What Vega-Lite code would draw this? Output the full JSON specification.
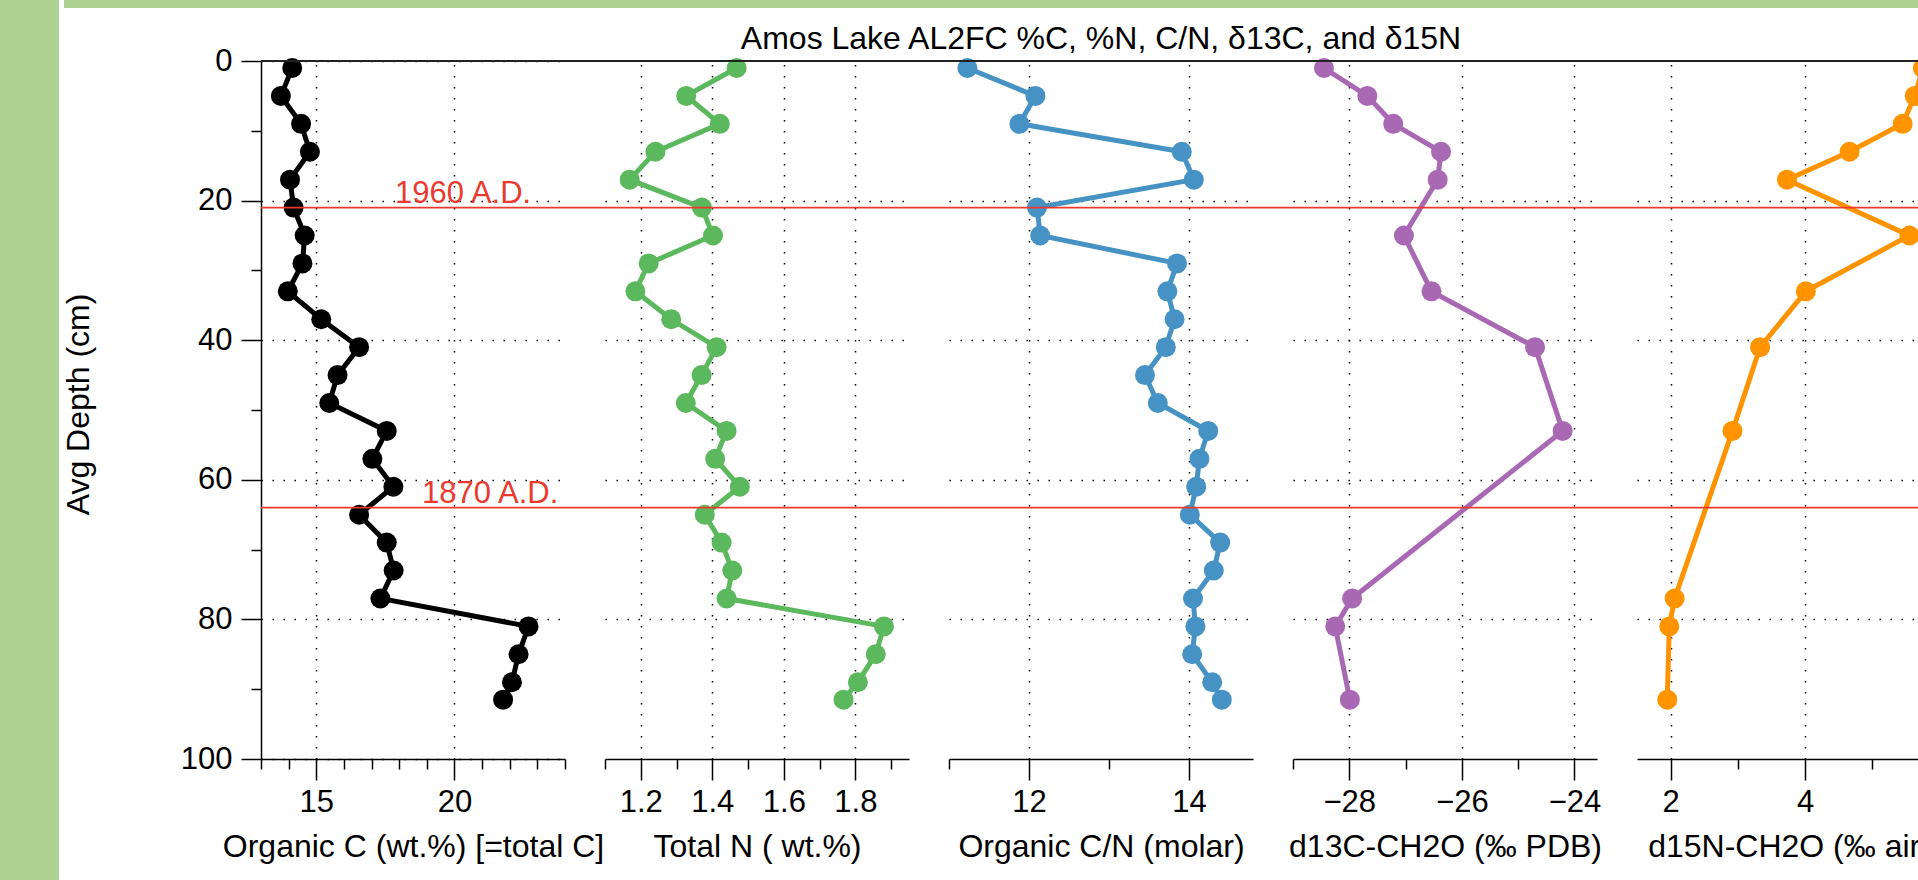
{
  "$schema": "https://vega.github.io/schema/vega-lite/v6.json",
  "background": "white",
  "padding": 0,
  "config": {
    "font": "Liberation Sans",
    "view": {"stroke": null},
    "axis": {
      "domainColor": "#000", "domainWidth": 1.5,
      "tickColor": "#000", "tickWidth": 1.5,
      "labelColor": "#000", "labelFontSize": 31, "labelFlush": false, "labelOverlap": false,
      "titleColor": "#000", "titleFontSize": 32, "titleFontWeight": "normal",
      "gridColor": "#000", "gridDash": [1.5, 9.5], "gridWidth": 1.5
    },
    "axisX": {"labelPadding": 7, "titlePadding": 14},
    "axisY": {"labelPadding": 9}
  },
  "datasets": {
    "cn": [
      {"depth": 1, "C": 14.13, "N": 1.468, "CN": 11.23},
      {"depth": 5, "C": 13.72, "N": 1.327, "CN": 12.08},
      {"depth": 9, "C": 14.45, "N": 1.421, "CN": 11.88},
      {"depth": 13, "C": 14.77, "N": 1.241, "CN": 13.91},
      {"depth": 17, "C": 14.05, "N": 1.169, "CN": 14.06},
      {"depth": 21, "C": 14.18, "N": 1.371, "CN": 12.10},
      {"depth": 25, "C": 14.58, "N": 1.402, "CN": 12.14},
      {"depth": 29, "C": 14.50, "N": 1.222, "CN": 13.85},
      {"depth": 33, "C": 13.97, "N": 1.185, "CN": 13.73},
      {"depth": 37, "C": 15.18, "N": 1.285, "CN": 13.82},
      {"depth": 41, "C": 16.55, "N": 1.412, "CN": 13.71},
      {"depth": 45, "C": 15.77, "N": 1.370, "CN": 13.45},
      {"depth": 49, "C": 15.47, "N": 1.326, "CN": 13.61},
      {"depth": 53, "C": 17.55, "N": 1.440, "CN": 14.24},
      {"depth": 57, "C": 17.03, "N": 1.408, "CN": 14.13},
      {"depth": 61, "C": 17.79, "N": 1.477, "CN": 14.09},
      {"depth": 65, "C": 16.55, "N": 1.379, "CN": 14.01},
      {"depth": 69, "C": 17.55, "N": 1.426, "CN": 14.39},
      {"depth": 73, "C": 17.80, "N": 1.456, "CN": 14.31},
      {"depth": 77, "C": 17.32, "N": 1.440, "CN": 14.05},
      {"depth": 81, "C": 22.68, "N": 1.880, "CN": 14.08},
      {"depth": 85, "C": 22.32, "N": 1.857, "CN": 14.04},
      {"depth": 89, "C": 22.08, "N": 1.807, "CN": 14.29},
      {"depth": 91.5, "C": 21.76, "N": 1.767, "CN": 14.41}
    ],
    "iso": [
      {"depth": 1, "d13C": -28.45, "d15N": 5.75},
      {"depth": 5, "d13C": -27.68, "d15N": 5.63},
      {"depth": 9, "d13C": -27.22, "d15N": 5.45},
      {"depth": 13, "d13C": -26.37, "d15N": 4.66},
      {"depth": 17, "d13C": -26.43, "d15N": 3.73},
      {"depth": 25, "d13C": -27.03, "d15N": 5.55},
      {"depth": 33, "d13C": -26.54, "d15N": 4.01},
      {"depth": 41, "d13C": -24.70, "d15N": 3.33},
      {"depth": 53, "d13C": -24.21, "d15N": 2.92},
      {"depth": 77, "d13C": -27.95, "d15N": 2.06},
      {"depth": 81, "d13C": -28.25, "d15N": 1.98},
      {"depth": 91.5, "d13C": -27.99, "d15N": 1.95}
    ],
    "horizons": [
      {"depth": 21, "label": "1960 A.D."},
      {"depth": 64, "label": "1870 A.D."}
    ]
  },
  "spacing": 3,
  "hconcat": [
    {
      "width": 59, "height": 880,
      "view": {"fill": "#aed291", "stroke": null},
      "data": {"values": [{}]},
      "mark": {"type": "rect", "color": "#aed291"}
    },
    {
      "spacing": 14,
      "vconcat": [
        {
          "width": 1856, "height": 8,
          "view": {"fill": "#aed291", "stroke": null},
          "data": {"values": [{}]},
          "mark": {"type": "rect", "color": "#aed291"}
        },
        {
          "bounds": "flush",
          "spacing": 40,
          "hconcat": [
            {
              "width": 157, "height": 698,
              "data": {"values": [{}]},
              "mark": {"type": "point", "opacity": 0}
            },
            {
              "width": 304, "height": 698,
              "resolve": {"axis": {"x": "independent", "y": "independent"}},
              "layer": [
                {
                  "data": {"name": "cn"},
                  "mark": {"type": "line", "color": "#000", "strokeWidth": 5},
                  "encoding": {
                    "x": {"field": "C", "type": "quantitative", "scale": {"domain": [13, 24], "nice": false, "zero": false},
                      "axis": {"orient": "bottom", "values": [15, 20], "tickSize": 21, "grid": true, "title": "Organic C (wt.%) [=total C]"}},
                    "y": {"field": "depth", "type": "quantitative", "scale": {"domain": [0, 100], "reverse": true, "nice": false, "zero": false},
                      "axis": {"orient": "left", "values": [0, 20, 40, 60, 80, 100], "tickSize": 20, "grid": true,
                        "title": "Avg Depth (cm)", "titlePadding": 85, "titleY": 343}},
                    "order": {"field": "depth", "type": "quantitative"}
                  }
                },
                {
                  "data": {"name": "cn"},
                  "mark": {"type": "circle", "color": "#000", "size": 400, "opacity": 1},
                  "encoding": {
                    "x": {"field": "C", "type": "quantitative",
                      "axis": {"orient": "bottom", "values": [13, 14, 16, 17, 18, 19, 21, 22, 23, 24], "tickSize": 10, "labels": false, "domain": false, "grid": false, "title": null}},
                    "y": {"field": "depth", "type": "quantitative",
                      "axis": {"orient": "left", "values": [10, 30, 50, 70, 90], "tickSize": 10, "labels": false, "domain": false, "grid": false, "title": null}}
                  }
                },
                {
                  "data": {"values": [{}]},
                  "mark": {"type": "rule", "color": "#222", "strokeWidth": 2},
                  "encoding": {"x": {"datum": 13, "axis": null}, "x2": {"datum": 25.447}, "y": {"datum": 0, "axis": null}}
                },
                {
                  "data": {"name": "horizons"},
                  "mark": {"type": "rule", "color": "#ea3a2f", "strokeWidth": 1.8},
                  "encoding": {"x": {"datum": 13, "axis": null}, "x2": {"datum": 25.447}, "y": {"field": "depth", "type": "quantitative", "axis": null}}
                },
                {
                  "data": {"name": "horizons"},
                  "transform": [{"filter": "datum.depth === 21"}],
                  "mark": {"type": "text", "color": "#ea3a2f", "fontSize": 31, "align": "left", "baseline": "alphabetic", "dy": -5},
                  "encoding": {"x": {"datum": 17.85, "axis": null}, "y": {"field": "depth", "type": "quantitative", "axis": null}, "text": {"field": "label"}}
                },
                {
                  "data": {"name": "horizons"},
                  "transform": [{"filter": "datum.depth === 64"}],
                  "mark": {"type": "text", "color": "#ea3a2f", "fontSize": 31, "align": "left", "baseline": "alphabetic", "dy": -5},
                  "encoding": {"x": {"datum": 18.83, "axis": null}, "y": {"field": "depth", "type": "quantitative", "axis": null}, "text": {"field": "label"}}
                }
              ]
            },
            {
              "width": 304, "height": 698,
              "resolve": {"axis": {"x": "independent", "y": "independent"}},
              "layer": [
                {
                  "data": {"name": "cn"},
                  "mark": {"type": "line", "color": "#5cb85c", "strokeWidth": 5},
                  "encoding": {
                    "x": {"field": "N", "type": "quantitative", "scale": {"domain": [1.1, 1.95], "nice": false, "zero": false},
                      "axis": {"orient": "bottom", "values": [1.2, 1.4, 1.6, 1.8], "tickSize": 21, "grid": true, "title": "Total N ( wt.%)"}},
                    "y": {"field": "depth", "type": "quantitative", "scale": {"domain": [0, 100], "reverse": true, "nice": false, "zero": false},
                      "axis": {"values": [20, 40, 60, 80], "grid": true, "domain": false, "ticks": false, "labels": false, "title": null}},
                    "order": {"field": "depth", "type": "quantitative"}
                  }
                },
                {
                  "data": {"name": "cn"},
                  "mark": {"type": "circle", "color": "#5cb85c", "size": 400, "opacity": 1},
                  "encoding": {
                    "x": {"field": "N", "type": "quantitative",
                      "axis": {"orient": "bottom", "values": [1.1, 1.3, 1.5, 1.7, 1.9], "tickSize": 10, "labels": false, "domain": false, "grid": false, "title": null}},
                    "y": {"field": "depth", "type": "quantitative", "axis": null}
                  }
                },
                {
                  "data": {"values": [{}]},
                  "mark": {"type": "rule", "color": "#222", "strokeWidth": 2},
                  "encoding": {"x": {"datum": 1.1, "axis": null}, "x2": {"datum": 2.0618}, "y": {"datum": 0, "axis": null}}
                },
                {
                  "data": {"name": "horizons"},
                  "mark": {"type": "rule", "color": "#ea3a2f", "strokeWidth": 1.8},
                  "encoding": {"x": {"datum": 1.1, "axis": null}, "x2": {"datum": 2.0618}, "y": {"field": "depth", "type": "quantitative", "axis": null}}
                }
              ]
            },
            {
              "width": 304, "height": 698,
              "title": {"text": "Amos Lake AL2FC %C, %N, C/N, δ13C, and δ15N", "fontSize": 32, "fontWeight": "normal", "color": "#000", "anchor": "middle", "baseline": "alphabetic", "offset": -23},
              "resolve": {"axis": {"x": "independent", "y": "independent"}},
              "layer": [
                {
                  "data": {"name": "cn"},
                  "mark": {"type": "line", "color": "#4692c4", "strokeWidth": 5},
                  "encoding": {
                    "x": {"field": "CN", "type": "quantitative", "scale": {"domain": [11, 14.8], "nice": false, "zero": false},
                      "axis": {"orient": "bottom", "values": [12, 14], "tickSize": 21, "grid": true, "title": "Organic C/N (molar)"}},
                    "y": {"field": "depth", "type": "quantitative", "scale": {"domain": [0, 100], "reverse": true, "nice": false, "zero": false},
                      "axis": {"values": [20, 40, 60, 80], "grid": true, "domain": false, "ticks": false, "labels": false, "title": null}},
                    "order": {"field": "depth", "type": "quantitative"}
                  }
                },
                {
                  "data": {"name": "cn"},
                  "mark": {"type": "circle", "color": "#4692c4", "size": 400, "opacity": 1},
                  "encoding": {
                    "x": {"field": "CN", "type": "quantitative",
                      "axis": {"orient": "bottom", "values": [11, 13], "tickSize": 10, "labels": false, "domain": false, "grid": false, "title": null}},
                    "y": {"field": "depth", "type": "quantitative", "axis": null}
                  }
                },
                {
                  "data": {"values": [{}]},
                  "mark": {"type": "rule", "color": "#222", "strokeWidth": 2},
                  "encoding": {"x": {"datum": 11, "axis": null}, "x2": {"datum": 15.3}, "y": {"datum": 0, "axis": null}}
                },
                {
                  "data": {"name": "horizons"},
                  "mark": {"type": "rule", "color": "#ea3a2f", "strokeWidth": 1.8},
                  "encoding": {"x": {"datum": 11, "axis": null}, "x2": {"datum": 15.3}, "y": {"field": "depth", "type": "quantitative", "axis": null}}
                }
              ]
            },
            {
              "width": 304, "height": 698,
              "resolve": {"axis": {"x": "independent", "y": "independent"}},
              "layer": [
                {
                  "data": {"name": "iso"},
                  "mark": {"type": "line", "color": "#a968b4", "strokeWidth": 5},
                  "encoding": {
                    "x": {"field": "d13C", "type": "quantitative", "scale": {"domain": [-29, -23.6], "nice": false, "zero": false},
                      "axis": {"orient": "bottom", "values": [-28, -26, -24], "tickSize": 21, "grid": true, "title": "d13C-CH2O (‰ PDB)"}},
                    "y": {"field": "depth", "type": "quantitative", "scale": {"domain": [0, 100], "reverse": true, "nice": false, "zero": false},
                      "axis": {"values": [20, 40, 60, 80], "grid": true, "domain": false, "ticks": false, "labels": false, "title": null}},
                    "order": {"field": "depth", "type": "quantitative"}
                  }
                },
                {
                  "data": {"name": "iso"},
                  "mark": {"type": "circle", "color": "#a968b4", "size": 400, "opacity": 1},
                  "encoding": {
                    "x": {"field": "d13C", "type": "quantitative",
                      "axis": {"orient": "bottom", "values": [-29, -27, -25], "tickSize": 10, "labels": false, "domain": false, "grid": false, "title": null}},
                    "y": {"field": "depth", "type": "quantitative", "axis": null}
                  }
                },
                {
                  "data": {"values": [{}]},
                  "mark": {"type": "rule", "color": "#222", "strokeWidth": 2},
                  "encoding": {"x": {"datum": -29, "axis": null}, "x2": {"datum": -22.889}, "y": {"datum": 0, "axis": null}}
                },
                {
                  "data": {"name": "horizons"},
                  "mark": {"type": "rule", "color": "#ea3a2f", "strokeWidth": 1.8},
                  "encoding": {"x": {"datum": -29, "axis": null}, "x2": {"datum": -22.889}, "y": {"field": "depth", "type": "quantitative", "axis": null}}
                }
              ]
            },
            {
              "width": 304, "height": 698,
              "resolve": {"axis": {"x": "independent", "y": "independent"}},
              "layer": [
                {
                  "data": {"name": "iso"},
                  "mark": {"type": "line", "color": "#ff9400", "strokeWidth": 5},
                  "encoding": {
                    "x": {"field": "d15N", "type": "quantitative", "scale": {"domain": [1.5, 6.02], "nice": false, "zero": false},
                      "axis": {"orient": "bottom", "values": [2, 4], "tickSize": 21, "grid": true, "title": "d15N-CH2O (‰ air)"}},
                    "y": {"field": "depth", "type": "quantitative", "scale": {"domain": [0, 100], "reverse": true, "nice": false, "zero": false},
                      "axis": {"values": [20, 40, 60, 80], "grid": true, "domain": false, "ticks": false, "labels": false, "title": null}},
                    "order": {"field": "depth", "type": "quantitative"}
                  }
                },
                {
                  "data": {"name": "iso"},
                  "mark": {"type": "circle", "color": "#ff9400", "size": 400, "opacity": 1},
                  "encoding": {
                    "x": {"field": "d15N", "type": "quantitative",
                      "axis": {"orient": "bottom", "values": [3, 5], "tickSize": 10, "labels": false, "domain": false, "grid": false, "title": null}},
                    "y": {"field": "depth", "type": "quantitative", "axis": null}
                  }
                },
                {
                  "data": {"values": [{}]},
                  "mark": {"type": "rule", "color": "#222", "strokeWidth": 2},
                  "encoding": {"x": {"datum": 1.5, "axis": null}, "x2": {"datum": 6.02}, "y": {"datum": 0, "axis": null}}
                },
                {
                  "data": {"name": "horizons"},
                  "mark": {"type": "rule", "color": "#ea3a2f", "strokeWidth": 1.8},
                  "encoding": {"x": {"datum": 1.5, "axis": null}, "x2": {"datum": 6.02}, "y": {"field": "depth", "type": "quantitative", "axis": null}}
                }
              ]
            }
          ]
        }
      ]
    }
  ]
}
